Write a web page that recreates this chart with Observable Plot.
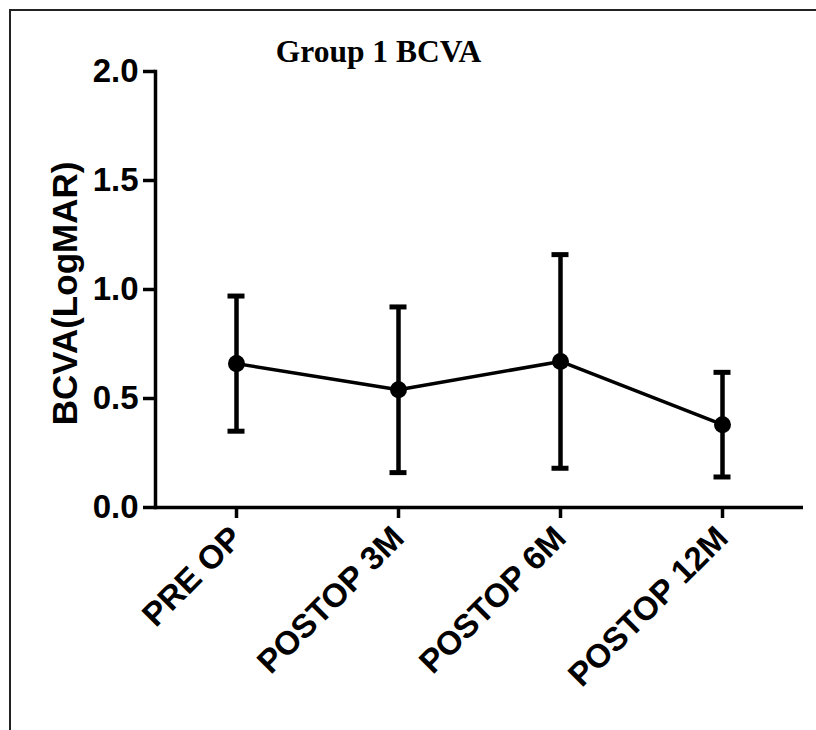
<!DOCTYPE html>
<html>
<head>
<meta charset="utf-8">
<script src="https://cdn.jsdelivr.net/npm/d3@7"></script>
<script src="https://cdn.jsdelivr.net/npm/@observablehq/plot@0.6"></script>
<style>
  html, body { margin: 0; padding: 0; background: #fff; }
  #wrap { position: relative; width: 816px; height: 730px; overflow: hidden; }
  #border { position: absolute; left: 9px; top: 9px; width: 820px; height: 740px;
            border-left: 2px solid #222; border-top: 2px solid #222; box-sizing: border-box; }
  #chart { position: absolute; left: 0; top: 0; }
</style>
</head>
<body>
<div id="wrap"><div id="border"></div><div id="chart"></div></div>
<script>
const titleText = "Group 1 BCVA";
const yLabel = "BCVA(LogMAR)";
const categories = ["PRE OP", "POSTOP 3M", "POSTOP 6M", "POSTOP 12M"];
const means = [0.66, 0.54, 0.67, 0.38];
const sds = [0.31, 0.38, 0.49, 0.24];
const yTicks = [0, 0.5, 1.0, 1.5, 2.0];

const data = categories.map((c, i) => ({cat: c, mean: means[i], lo: means[i] - sds[i], hi: means[i] + sds[i]}));

const sans = "'Liberation Sans', Arial, Helvetica, sans-serif";
const serif = "'Liberation Serif', 'Times New Roman', serif";

const chart = Plot.plot({
  width: 816,
  height: 730,
  marginLeft: 155,
  marginRight: 13,
  marginTop: 71,
  marginBottom: 223,
  style: {background: "transparent", color: "#000", fontFamily: sans},
  x: {type: "band", domain: categories, padding: 0},
  y: {domain: [0, 2]},
  marks: [
    Plot.frame({anchor: "left", strokeWidth: 3.5, stroke: "#000"}),
    Plot.ruleY([0], {strokeWidth: 3.5, stroke: "#000"}),
    Plot.axisY({ticks: yTicks, tickFormat: d3.format(".1f"), tickSize: 12, tickPadding: 5,
      strokeWidth: 3.5, fontSize: 33, fontWeight: "bold", label: null}),
    Plot.text([yLabel], {frameAnchor: "left", rotate: -90, dx: -90, dy: 4, fontSize: 35, fontWeight: "bold",
      fontFamily: sans, textAnchor: "middle", lineAnchor: "middle"}),
    Plot.axisX({tickSize: 11, tickPadding: 14, tickRotate: -45, strokeWidth: 3.5,
      fontSize: 33, fontWeight: "bold", label: null}),
    Plot.ruleX(data, {x: "cat", y1: "lo", y2: "hi", strokeWidth: 4.5, stroke: "#000"}),
    Plot.tickY(data, {x: "cat", y: "lo", strokeWidth: 5, stroke: "#000", insetLeft: 72.5, insetRight: 72.5}),
    Plot.tickY(data, {x: "cat", y: "hi", strokeWidth: 5, stroke: "#000", insetLeft: 72.5, insetRight: 72.5}),
    Plot.line(data, {x: "cat", y: "mean", strokeWidth: 3.5, stroke: "#000"}),
    Plot.dot(data, {x: "cat", y: "mean", r: 8.5, fill: "#000", stroke: "none"}),
    Plot.text([titleText], {frameAnchor: "top", dx: -101, dy: -10, lineAnchor: "bottom",
      fontSize: 31.5, fontWeight: "bold", fontFamily: serif})
  ]
});
document.getElementById("chart").appendChild(chart);
</script>
</body>
</html>
